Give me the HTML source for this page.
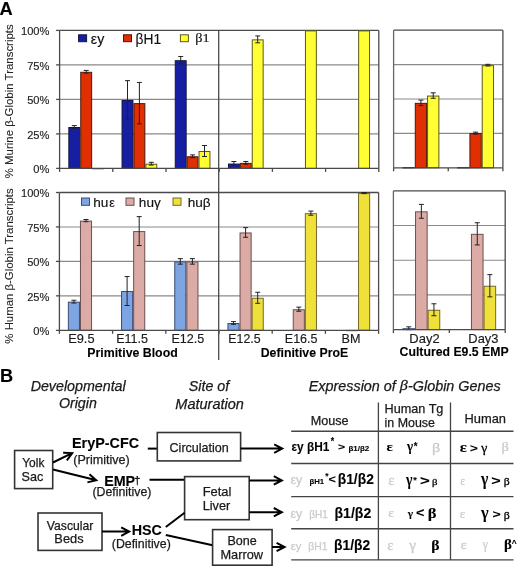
<!DOCTYPE html>
<html><head><meta charset="utf-8"><style>
html,body{margin:0;padding:0;background:#fff;width:520px;height:569px;overflow:hidden}
svg{display:block;will-change:transform;filter:blur(0.3px)}
</style></head><body>
<svg width="520" height="569" viewBox="0 0 520 569">
<rect width="520" height="569" fill="#fff"/>
<text x="-0.44" y="14.60"  font-size="18.30" font-weight="bold" font-style="normal" fill="#000" stroke="#000" stroke-width="0.1" font-family='"Liberation Sans", sans-serif' >A</text>
<line x1="59.60" y1="133.90" x2="378.80" y2="133.90" stroke="#8a8a8a" stroke-width="1.1" />
<line x1="59.60" y1="99.40" x2="378.80" y2="99.40" stroke="#8a8a8a" stroke-width="1.1" />
<line x1="59.60" y1="64.90" x2="378.80" y2="64.90" stroke="#8a8a8a" stroke-width="1.1" />
<line x1="59.60" y1="30.40" x2="378.80" y2="30.40" stroke="#4a4a4a" stroke-width="1.3" />
<line x1="378.80" y1="30.40" x2="378.80" y2="168.40" stroke="#4a4a4a" stroke-width="1.3" />
<rect x="68.85" y="127.50" width="10.90" height="40.90" fill="#161ea2" stroke="#14143c" stroke-width="1"/>
<line x1="74.30" y1="125.62" x2="74.30" y2="128.38" stroke="#222" stroke-width="1" />
<line x1="71.80" y1="125.62" x2="76.80" y2="125.62" stroke="#222" stroke-width="1" />
<line x1="71.80" y1="128.38" x2="76.80" y2="128.38" stroke="#222" stroke-width="1" />
<rect x="80.75" y="72.30" width="10.90" height="96.10" fill="#e02f02" stroke="#4a1808" stroke-width="1"/>
<line x1="86.20" y1="70.42" x2="86.20" y2="73.18" stroke="#222" stroke-width="1" />
<line x1="83.70" y1="70.42" x2="88.70" y2="70.42" stroke="#222" stroke-width="1" />
<line x1="83.70" y1="73.18" x2="88.70" y2="73.18" stroke="#222" stroke-width="1" />
<rect x="92.65" y="168.49" width="10.90" height="0.30" fill="#ffff33" stroke="#5c5a18" stroke-width="1"/>
<rect x="122.05" y="100.45" width="10.90" height="67.95" fill="#161ea2" stroke="#14143c" stroke-width="1"/>
<line x1="127.50" y1="80.63" x2="127.50" y2="119.27" stroke="#222" stroke-width="1" />
<line x1="125.00" y1="80.63" x2="130.00" y2="80.63" stroke="#222" stroke-width="1" />
<line x1="125.00" y1="119.27" x2="130.00" y2="119.27" stroke="#222" stroke-width="1" />
<rect x="133.95" y="103.63" width="10.90" height="64.77" fill="#e02f02" stroke="#4a1808" stroke-width="1"/>
<line x1="139.40" y1="82.43" x2="139.40" y2="123.83" stroke="#222" stroke-width="1" />
<line x1="136.90" y1="82.43" x2="141.90" y2="82.43" stroke="#222" stroke-width="1" />
<line x1="136.90" y1="123.83" x2="141.90" y2="123.83" stroke="#222" stroke-width="1" />
<rect x="145.85" y="164.21" width="10.90" height="4.19" fill="#ffff33" stroke="#5c5a18" stroke-width="1"/>
<line x1="151.30" y1="162.33" x2="151.30" y2="165.09" stroke="#222" stroke-width="1" />
<line x1="148.80" y1="162.33" x2="153.80" y2="162.33" stroke="#222" stroke-width="1" />
<line x1="148.80" y1="165.09" x2="153.80" y2="165.09" stroke="#222" stroke-width="1" />
<rect x="175.25" y="60.71" width="10.90" height="107.69" fill="#161ea2" stroke="#14143c" stroke-width="1"/>
<line x1="180.70" y1="56.48" x2="180.70" y2="63.93" stroke="#222" stroke-width="1" />
<line x1="178.20" y1="56.48" x2="183.20" y2="56.48" stroke="#222" stroke-width="1" />
<line x1="178.20" y1="63.93" x2="183.20" y2="63.93" stroke="#222" stroke-width="1" />
<rect x="187.15" y="156.76" width="10.90" height="11.64" fill="#e02f02" stroke="#4a1808" stroke-width="1"/>
<line x1="192.60" y1="154.88" x2="192.60" y2="157.64" stroke="#222" stroke-width="1" />
<line x1="190.10" y1="154.88" x2="195.10" y2="154.88" stroke="#222" stroke-width="1" />
<line x1="190.10" y1="157.64" x2="195.10" y2="157.64" stroke="#222" stroke-width="1" />
<rect x="199.05" y="151.51" width="10.90" height="16.89" fill="#ffff33" stroke="#5c5a18" stroke-width="1"/>
<line x1="204.50" y1="145.49" x2="204.50" y2="156.53" stroke="#222" stroke-width="1" />
<line x1="202.00" y1="145.49" x2="207.00" y2="145.49" stroke="#222" stroke-width="1" />
<line x1="202.00" y1="156.53" x2="207.00" y2="156.53" stroke="#222" stroke-width="1" />
<rect x="228.45" y="164.07" width="10.90" height="4.33" fill="#161ea2" stroke="#14143c" stroke-width="1"/>
<line x1="233.90" y1="161.50" x2="233.90" y2="165.64" stroke="#222" stroke-width="1" />
<line x1="231.40" y1="161.50" x2="236.40" y2="161.50" stroke="#222" stroke-width="1" />
<line x1="231.40" y1="165.64" x2="236.40" y2="165.64" stroke="#222" stroke-width="1" />
<rect x="240.35" y="163.38" width="10.90" height="5.02" fill="#e02f02" stroke="#4a1808" stroke-width="1"/>
<line x1="245.80" y1="161.50" x2="245.80" y2="164.26" stroke="#222" stroke-width="1" />
<line x1="243.30" y1="161.50" x2="248.30" y2="161.50" stroke="#222" stroke-width="1" />
<line x1="243.30" y1="164.26" x2="248.30" y2="164.26" stroke="#222" stroke-width="1" />
<rect x="252.25" y="39.87" width="10.90" height="128.53" fill="#ffff33" stroke="#5c5a18" stroke-width="1"/>
<line x1="257.70" y1="35.92" x2="257.70" y2="42.82" stroke="#222" stroke-width="1" />
<line x1="255.20" y1="35.92" x2="260.20" y2="35.92" stroke="#222" stroke-width="1" />
<line x1="255.20" y1="42.82" x2="260.20" y2="42.82" stroke="#222" stroke-width="1" />
<rect x="305.45" y="30.90" width="10.90" height="137.50" fill="#ffff33" stroke="#5c5a18" stroke-width="1"/>
<rect x="358.65" y="30.90" width="10.90" height="137.50" fill="#ffff33" stroke="#5c5a18" stroke-width="1"/>
<line x1="59.60" y1="30.40" x2="59.60" y2="168.40" stroke="#4a4a4a" stroke-width="1.3" />
<line x1="56.10" y1="168.40" x2="378.80" y2="168.40" stroke="#4a4a4a" stroke-width="1.3" />
<line x1="56.10" y1="133.90" x2="59.60" y2="133.90" stroke="#4a4a4a" stroke-width="1.3" />
<line x1="56.10" y1="99.40" x2="59.60" y2="99.40" stroke="#4a4a4a" stroke-width="1.3" />
<line x1="56.10" y1="64.90" x2="59.60" y2="64.90" stroke="#4a4a4a" stroke-width="1.3" />
<line x1="56.10" y1="30.40" x2="59.60" y2="30.40" stroke="#4a4a4a" stroke-width="1.3" />
<line x1="59.60" y1="168.40" x2="59.60" y2="171.90" stroke="#4a4a4a" stroke-width="1.3" />
<line x1="112.80" y1="168.40" x2="112.80" y2="171.90" stroke="#4a4a4a" stroke-width="1.3" />
<line x1="166.00" y1="168.40" x2="166.00" y2="171.90" stroke="#4a4a4a" stroke-width="1.3" />
<line x1="219.20" y1="168.40" x2="219.20" y2="171.90" stroke="#4a4a4a" stroke-width="1.3" />
<line x1="272.40" y1="168.40" x2="272.40" y2="171.90" stroke="#4a4a4a" stroke-width="1.3" />
<line x1="325.60" y1="168.40" x2="325.60" y2="171.90" stroke="#4a4a4a" stroke-width="1.3" />
<line x1="378.80" y1="168.40" x2="378.80" y2="171.90" stroke="#4a4a4a" stroke-width="1.3" />
<text x="33.35" y="173.20"  font-size="11.10" font-weight="normal" font-style="normal" fill="#222" stroke="#222" stroke-width="0.15" font-family='"Liberation Sans", sans-serif' >0%</text>
<text x="27.18" y="138.70"  font-size="11.10" font-weight="normal" font-style="normal" fill="#222" stroke="#222" stroke-width="0.15" font-family='"Liberation Sans", sans-serif' >25%</text>
<text x="27.18" y="104.20"  font-size="11.10" font-weight="normal" font-style="normal" fill="#222" stroke="#222" stroke-width="0.15" font-family='"Liberation Sans", sans-serif' >50%</text>
<text x="27.18" y="69.70"  font-size="11.10" font-weight="normal" font-style="normal" fill="#222" stroke="#222" stroke-width="0.15" font-family='"Liberation Sans", sans-serif' >75%</text>
<text x="21.01" y="35.20"  font-size="11.10" font-weight="normal" font-style="normal" fill="#222" stroke="#222" stroke-width="0.15" font-family='"Liberation Sans", sans-serif' >100%</text>
<line x1="393.60" y1="133.40" x2="502.90" y2="133.40" stroke="#8a8a8a" stroke-width="1.1" />
<line x1="393.60" y1="99.00" x2="502.90" y2="99.00" stroke="#8a8a8a" stroke-width="1.1" />
<line x1="393.60" y1="64.60" x2="502.90" y2="64.60" stroke="#8a8a8a" stroke-width="1.1" />
<line x1="393.60" y1="30.20" x2="502.90" y2="30.20" stroke="#4a4a4a" stroke-width="1.3" />
<line x1="502.90" y1="30.20" x2="502.90" y2="167.80" stroke="#4a4a4a" stroke-width="1.3" />
<rect x="402.98" y="167.61" width="11.30" height="0.30" fill="#161ea2" stroke="#14143c" stroke-width="1"/>
<rect x="415.28" y="103.35" width="11.30" height="64.45" fill="#e02f02" stroke="#4a1808" stroke-width="1"/>
<line x1="420.93" y1="100.10" x2="420.93" y2="105.60" stroke="#222" stroke-width="1" />
<line x1="418.43" y1="100.10" x2="423.43" y2="100.10" stroke="#222" stroke-width="1" />
<line x1="418.43" y1="105.60" x2="423.43" y2="105.60" stroke="#222" stroke-width="1" />
<rect x="427.58" y="96.06" width="11.30" height="71.74" fill="#ffff33" stroke="#5c5a18" stroke-width="1"/>
<line x1="433.23" y1="92.81" x2="433.23" y2="98.31" stroke="#222" stroke-width="1" />
<line x1="430.73" y1="92.81" x2="435.73" y2="92.81" stroke="#222" stroke-width="1" />
<line x1="430.73" y1="98.31" x2="435.73" y2="98.31" stroke="#222" stroke-width="1" />
<rect x="457.62" y="167.61" width="11.30" height="0.30" fill="#161ea2" stroke="#14143c" stroke-width="1"/>
<rect x="469.93" y="133.62" width="11.30" height="34.18" fill="#e02f02" stroke="#4a1808" stroke-width="1"/>
<line x1="475.57" y1="132.16" x2="475.57" y2="134.09" stroke="#222" stroke-width="1" />
<line x1="473.07" y1="132.16" x2="478.07" y2="132.16" stroke="#222" stroke-width="1" />
<line x1="473.07" y1="134.09" x2="478.07" y2="134.09" stroke="#222" stroke-width="1" />
<rect x="482.23" y="65.65" width="11.30" height="102.15" fill="#ffff33" stroke="#5c5a18" stroke-width="1"/>
<line x1="487.88" y1="64.32" x2="487.88" y2="65.98" stroke="#222" stroke-width="1" />
<line x1="485.38" y1="64.32" x2="490.38" y2="64.32" stroke="#222" stroke-width="1" />
<line x1="485.38" y1="65.98" x2="490.38" y2="65.98" stroke="#222" stroke-width="1" />
<line x1="393.60" y1="30.20" x2="393.60" y2="167.80" stroke="#666" stroke-width="1.3" />
<line x1="393.60" y1="167.80" x2="502.90" y2="167.80" stroke="#4a4a4a" stroke-width="1.3" />
<line x1="393.60" y1="167.80" x2="393.60" y2="171.30" stroke="#4a4a4a" stroke-width="1.3" />
<line x1="448.25" y1="167.80" x2="448.25" y2="171.30" stroke="#4a4a4a" stroke-width="1.3" />
<line x1="502.90" y1="167.80" x2="502.90" y2="171.30" stroke="#4a4a4a" stroke-width="1.3" />
<line x1="59.40" y1="295.85" x2="378.60" y2="295.85" stroke="#8a8a8a" stroke-width="1.1" />
<line x1="59.40" y1="261.40" x2="378.60" y2="261.40" stroke="#8a8a8a" stroke-width="1.1" />
<line x1="59.40" y1="226.95" x2="378.60" y2="226.95" stroke="#8a8a8a" stroke-width="1.1" />
<line x1="59.40" y1="192.50" x2="378.60" y2="192.50" stroke="#4a4a4a" stroke-width="1.3" />
<line x1="378.60" y1="192.50" x2="378.60" y2="330.30" stroke="#4a4a4a" stroke-width="1.3" />
<rect x="68.35" y="302.14" width="11.10" height="28.16" fill="#7ca5e2" stroke="#3c4c78" stroke-width="1"/>
<line x1="73.90" y1="300.26" x2="73.90" y2="303.02" stroke="#222" stroke-width="1" />
<line x1="71.40" y1="300.26" x2="76.40" y2="300.26" stroke="#222" stroke-width="1" />
<line x1="71.40" y1="303.02" x2="76.40" y2="303.02" stroke="#222" stroke-width="1" />
<rect x="80.45" y="221.11" width="11.10" height="109.19" fill="#dcaba5" stroke="#6a4f50" stroke-width="1"/>
<line x1="86.00" y1="219.51" x2="86.00" y2="221.71" stroke="#222" stroke-width="1" />
<line x1="83.50" y1="219.51" x2="88.50" y2="219.51" stroke="#222" stroke-width="1" />
<line x1="83.50" y1="221.71" x2="88.50" y2="221.71" stroke="#222" stroke-width="1" />
<rect x="121.55" y="291.53" width="11.10" height="38.77" fill="#7ca5e2" stroke="#3c4c78" stroke-width="1"/>
<line x1="127.10" y1="276.56" x2="127.10" y2="305.50" stroke="#222" stroke-width="1" />
<line x1="124.60" y1="276.56" x2="129.60" y2="276.56" stroke="#222" stroke-width="1" />
<line x1="124.60" y1="305.50" x2="129.60" y2="305.50" stroke="#222" stroke-width="1" />
<rect x="133.65" y="231.58" width="11.10" height="98.72" fill="#dcaba5" stroke="#6a4f50" stroke-width="1"/>
<line x1="139.20" y1="216.62" x2="139.20" y2="245.55" stroke="#222" stroke-width="1" />
<line x1="136.70" y1="216.62" x2="141.70" y2="216.62" stroke="#222" stroke-width="1" />
<line x1="136.70" y1="245.55" x2="141.70" y2="245.55" stroke="#222" stroke-width="1" />
<rect x="174.75" y="261.90" width="11.10" height="68.40" fill="#7ca5e2" stroke="#3c4c78" stroke-width="1"/>
<line x1="180.30" y1="258.64" x2="180.30" y2="264.16" stroke="#222" stroke-width="1" />
<line x1="177.80" y1="258.64" x2="182.80" y2="258.64" stroke="#222" stroke-width="1" />
<line x1="177.80" y1="264.16" x2="182.80" y2="264.16" stroke="#222" stroke-width="1" />
<rect x="186.85" y="261.90" width="11.10" height="68.40" fill="#dcaba5" stroke="#6a4f50" stroke-width="1"/>
<line x1="192.40" y1="258.64" x2="192.40" y2="264.16" stroke="#222" stroke-width="1" />
<line x1="189.90" y1="258.64" x2="194.90" y2="258.64" stroke="#222" stroke-width="1" />
<line x1="189.90" y1="264.16" x2="194.90" y2="264.16" stroke="#222" stroke-width="1" />
<rect x="227.95" y="323.50" width="11.10" height="6.80" fill="#7ca5e2" stroke="#3c4c78" stroke-width="1"/>
<line x1="233.50" y1="321.62" x2="233.50" y2="324.37" stroke="#222" stroke-width="1" />
<line x1="231.00" y1="321.62" x2="236.00" y2="321.62" stroke="#222" stroke-width="1" />
<line x1="231.00" y1="324.37" x2="236.00" y2="324.37" stroke="#222" stroke-width="1" />
<rect x="240.05" y="232.96" width="11.10" height="97.34" fill="#dcaba5" stroke="#6a4f50" stroke-width="1"/>
<line x1="245.60" y1="227.64" x2="245.60" y2="237.28" stroke="#222" stroke-width="1" />
<line x1="243.10" y1="227.64" x2="248.10" y2="227.64" stroke="#222" stroke-width="1" />
<line x1="243.10" y1="237.28" x2="248.10" y2="237.28" stroke="#222" stroke-width="1" />
<rect x="252.15" y="298.28" width="11.10" height="32.02" fill="#f0e03a" stroke="#76682a" stroke-width="1"/>
<line x1="257.70" y1="292.27" x2="257.70" y2="303.29" stroke="#222" stroke-width="1" />
<line x1="255.20" y1="292.27" x2="260.20" y2="292.27" stroke="#222" stroke-width="1" />
<line x1="255.20" y1="303.29" x2="260.20" y2="303.29" stroke="#222" stroke-width="1" />
<rect x="293.25" y="309.72" width="11.10" height="20.58" fill="#dcaba5" stroke="#6a4f50" stroke-width="1"/>
<line x1="298.80" y1="307.15" x2="298.80" y2="311.28" stroke="#222" stroke-width="1" />
<line x1="296.30" y1="307.15" x2="301.30" y2="307.15" stroke="#222" stroke-width="1" />
<line x1="296.30" y1="311.28" x2="301.30" y2="311.28" stroke="#222" stroke-width="1" />
<rect x="305.35" y="213.67" width="11.10" height="116.63" fill="#f0e03a" stroke="#76682a" stroke-width="1"/>
<line x1="310.90" y1="211.10" x2="310.90" y2="215.24" stroke="#222" stroke-width="1" />
<line x1="308.40" y1="211.10" x2="313.40" y2="211.10" stroke="#222" stroke-width="1" />
<line x1="308.40" y1="215.24" x2="313.40" y2="215.24" stroke="#222" stroke-width="1" />
<rect x="346.45" y="330.39" width="11.10" height="0.30" fill="#dcaba5" stroke="#6a4f50" stroke-width="1"/>
<rect x="358.55" y="193.55" width="11.10" height="136.75" fill="#f0e03a" stroke="#76682a" stroke-width="1"/>
<line x1="364.10" y1="192.50" x2="364.10" y2="193.60" stroke="#222" stroke-width="1" />
<line x1="361.60" y1="192.50" x2="366.60" y2="192.50" stroke="#222" stroke-width="1" />
<line x1="361.60" y1="193.60" x2="366.60" y2="193.60" stroke="#222" stroke-width="1" />
<line x1="59.40" y1="192.50" x2="59.40" y2="330.30" stroke="#4a4a4a" stroke-width="1.3" />
<line x1="55.90" y1="330.30" x2="378.60" y2="330.30" stroke="#4a4a4a" stroke-width="1.3" />
<line x1="55.90" y1="295.85" x2="59.40" y2="295.85" stroke="#4a4a4a" stroke-width="1.3" />
<line x1="55.90" y1="261.40" x2="59.40" y2="261.40" stroke="#4a4a4a" stroke-width="1.3" />
<line x1="55.90" y1="226.95" x2="59.40" y2="226.95" stroke="#4a4a4a" stroke-width="1.3" />
<line x1="55.90" y1="192.50" x2="59.40" y2="192.50" stroke="#4a4a4a" stroke-width="1.3" />
<line x1="59.40" y1="330.30" x2="59.40" y2="333.80" stroke="#4a4a4a" stroke-width="1.3" />
<line x1="112.60" y1="330.30" x2="112.60" y2="333.80" stroke="#4a4a4a" stroke-width="1.3" />
<line x1="165.80" y1="330.30" x2="165.80" y2="333.80" stroke="#4a4a4a" stroke-width="1.3" />
<line x1="219.00" y1="330.30" x2="219.00" y2="333.80" stroke="#4a4a4a" stroke-width="1.3" />
<line x1="272.20" y1="330.30" x2="272.20" y2="333.80" stroke="#4a4a4a" stroke-width="1.3" />
<line x1="325.40" y1="330.30" x2="325.40" y2="333.80" stroke="#4a4a4a" stroke-width="1.3" />
<line x1="378.60" y1="330.30" x2="378.60" y2="333.80" stroke="#4a4a4a" stroke-width="1.3" />
<text x="33.35" y="335.10"  font-size="11.10" font-weight="normal" font-style="normal" fill="#222" stroke="#222" stroke-width="0.15" font-family='"Liberation Sans", sans-serif' >0%</text>
<text x="27.18" y="300.65"  font-size="11.10" font-weight="normal" font-style="normal" fill="#222" stroke="#222" stroke-width="0.15" font-family='"Liberation Sans", sans-serif' >25%</text>
<text x="27.18" y="266.20"  font-size="11.10" font-weight="normal" font-style="normal" fill="#222" stroke="#222" stroke-width="0.15" font-family='"Liberation Sans", sans-serif' >50%</text>
<text x="27.18" y="231.75"  font-size="11.10" font-weight="normal" font-style="normal" fill="#222" stroke="#222" stroke-width="0.15" font-family='"Liberation Sans", sans-serif' >75%</text>
<text x="21.01" y="197.30"  font-size="11.10" font-weight="normal" font-style="normal" fill="#222" stroke="#222" stroke-width="0.15" font-family='"Liberation Sans", sans-serif' >100%</text>
<line x1="393.40" y1="294.90" x2="505.20" y2="294.90" stroke="#8a8a8a" stroke-width="1.1" />
<line x1="393.40" y1="260.20" x2="505.20" y2="260.20" stroke="#8a8a8a" stroke-width="1.1" />
<line x1="393.40" y1="225.50" x2="505.20" y2="225.50" stroke="#8a8a8a" stroke-width="1.1" />
<line x1="393.40" y1="190.80" x2="505.20" y2="190.80" stroke="#4a4a4a" stroke-width="1.3" />
<line x1="505.20" y1="190.80" x2="505.20" y2="329.60" stroke="#4a4a4a" stroke-width="1.3" />
<rect x="402.95" y="328.71" width="11.60" height="0.89" fill="#7ca5e2" stroke="#3c4c78" stroke-width="1"/>
<line x1="408.75" y1="326.82" x2="408.75" y2="329.60" stroke="#222" stroke-width="1" />
<line x1="406.25" y1="326.82" x2="411.25" y2="326.82" stroke="#222" stroke-width="1" />
<line x1="406.25" y1="329.60" x2="411.25" y2="329.60" stroke="#222" stroke-width="1" />
<rect x="415.55" y="211.84" width="11.60" height="117.76" fill="#dcaba5" stroke="#6a4f50" stroke-width="1"/>
<line x1="421.35" y1="204.40" x2="421.35" y2="218.28" stroke="#222" stroke-width="1" />
<line x1="418.85" y1="204.40" x2="423.85" y2="204.40" stroke="#222" stroke-width="1" />
<line x1="418.85" y1="218.28" x2="423.85" y2="218.28" stroke="#222" stroke-width="1" />
<rect x="428.15" y="310.25" width="11.60" height="19.35" fill="#f0e03a" stroke="#76682a" stroke-width="1"/>
<line x1="433.95" y1="303.78" x2="433.95" y2="315.72" stroke="#222" stroke-width="1" />
<line x1="431.45" y1="303.78" x2="436.45" y2="303.78" stroke="#222" stroke-width="1" />
<line x1="431.45" y1="315.72" x2="436.45" y2="315.72" stroke="#222" stroke-width="1" />
<rect x="471.45" y="234.33" width="11.60" height="95.27" fill="#dcaba5" stroke="#6a4f50" stroke-width="1"/>
<line x1="477.25" y1="222.72" x2="477.25" y2="244.93" stroke="#222" stroke-width="1" />
<line x1="474.75" y1="222.72" x2="479.75" y2="222.72" stroke="#222" stroke-width="1" />
<line x1="474.75" y1="244.93" x2="479.75" y2="244.93" stroke="#222" stroke-width="1" />
<rect x="484.05" y="286.24" width="11.60" height="43.36" fill="#f0e03a" stroke="#76682a" stroke-width="1"/>
<line x1="489.85" y1="274.64" x2="489.85" y2="296.84" stroke="#222" stroke-width="1" />
<line x1="487.35" y1="274.64" x2="492.35" y2="274.64" stroke="#222" stroke-width="1" />
<line x1="487.35" y1="296.84" x2="492.35" y2="296.84" stroke="#222" stroke-width="1" />
<line x1="393.40" y1="190.80" x2="393.40" y2="329.60" stroke="#666" stroke-width="1.3" />
<line x1="393.40" y1="329.60" x2="505.20" y2="329.60" stroke="#4a4a4a" stroke-width="1.3" />
<line x1="393.40" y1="329.60" x2="393.40" y2="333.10" stroke="#4a4a4a" stroke-width="1.3" />
<line x1="449.30" y1="329.60" x2="449.30" y2="333.10" stroke="#4a4a4a" stroke-width="1.3" />
<line x1="505.20" y1="329.60" x2="505.20" y2="333.10" stroke="#4a4a4a" stroke-width="1.3" />
<line x1="218.70" y1="30.40" x2="218.70" y2="360.00" stroke="#4a4a4a" stroke-width="1.3" />
<text transform="translate(13.4,101.3) rotate(-90)" font-size="11.45" text-anchor="middle" fill="#222" stroke="#222" stroke-width="0.08" font-family='"Liberation Sans", sans-serif'>% Murine β-Globin Transcripts</text>
<text transform="translate(13.4,266) rotate(-90)" font-size="11.4" text-anchor="middle" fill="#222" stroke="#222" stroke-width="0.08" font-family='"Liberation Sans", sans-serif'>% Human β-Globin Transcripts</text>
<rect x="78.60" y="34.80" width="8.00" height="6.90" fill="#161ea2" stroke="#14143c" stroke-width="1"/>
<text x="90.82" y="43.70"  font-size="14.18" font-weight="normal" font-style="normal" fill="#111" stroke="#111" stroke-width="0.15" font-family='"Liberation Sans", sans-serif' >εy</text>
<rect x="123.50" y="34.80" width="8.00" height="6.90" fill="#e02f02" stroke="#4a1808" stroke-width="1"/>
<text x="135.55" y="43.60"  font-size="13.77" font-weight="normal" font-style="normal" fill="#111" stroke="#111" stroke-width="0.15" font-family='"Liberation Sans", sans-serif' >βH1</text>
<rect x="180.40" y="34.80" width="8.00" height="6.90" fill="#ffff33" stroke="#5c5a18" stroke-width="1"/>
<text  transform="translate(195.29,42.44) scale(1.0614,1)" font-size="13.41" font-weight="normal" font-style="normal" fill="#111" stroke="#111" stroke-width="0.15" font-family='"Liberation Serif", serif' >β1</text>
<rect x="81.50" y="198.00" width="8.00" height="7.30" fill="#7ca5e2" stroke="#3c4c78" stroke-width="1"/>
<text x="93.26" y="206.90"  font-size="13.60" font-weight="normal" font-style="normal" fill="#111" stroke="#111" stroke-width="0.15" font-family='"Liberation Sans", sans-serif' >hu</text>
<text x="109.17" y="206.90"  font-size="12.60" font-weight="normal" font-style="normal" fill="#111" stroke="#111" stroke-width="0.15" font-family='"Liberation Sans", sans-serif' >ε</text>
<rect x="126.00" y="198.00" width="8.00" height="7.30" fill="#dcaba5" stroke="#6a4f50" stroke-width="1"/>
<text x="138.86" y="206.90"  font-size="13.60" font-weight="normal" font-style="normal" fill="#111" stroke="#111" stroke-width="0.15" font-family='"Liberation Sans", sans-serif' >huγ</text>
<rect x="173.00" y="198.00" width="8.00" height="7.30" fill="#f0e03a" stroke="#76682a" stroke-width="1"/>
<text x="187.66" y="206.90"  font-size="13.60" font-weight="normal" font-style="normal" fill="#111" stroke="#111" stroke-width="0.15" font-family='"Liberation Sans", sans-serif' >huβ</text>
<text  transform="translate(68.15,342.90) scale(1.0341,1)" font-size="12.40" font-weight="normal" font-style="normal" fill="#1a1a1a" stroke="#1a1a1a" stroke-width="0.15" font-family='"Liberation Sans", sans-serif' >E9.5</text>
<text  transform="translate(116.17,342.90) scale(1.0114,1)" font-size="12.40" font-weight="normal" font-style="normal" fill="#1a1a1a" stroke="#1a1a1a" stroke-width="0.15" font-family='"Liberation Sans", sans-serif' >E11.5</text>
<text  transform="translate(171.47,342.90) scale(1.0137,1)" font-size="12.40" font-weight="normal" font-style="normal" fill="#1a1a1a" stroke="#1a1a1a" stroke-width="0.15" font-family='"Liberation Sans", sans-serif' >E12.5</text>
<text  transform="translate(228.29,342.90) scale(0.9975,1)" font-size="12.40" font-weight="normal" font-style="normal" fill="#1a1a1a" stroke="#1a1a1a" stroke-width="0.15" font-family='"Liberation Sans", sans-serif' >E12.5</text>
<text  transform="translate(284.77,342.90) scale(1.0137,1)" font-size="12.40" font-weight="normal" font-style="normal" fill="#1a1a1a" stroke="#1a1a1a" stroke-width="0.15" font-family='"Liberation Sans", sans-serif' >E16.5</text>
<text  transform="translate(341.46,342.90) scale(1.0201,1)" font-size="12.40" font-weight="normal" font-style="normal" fill="#1a1a1a" stroke="#1a1a1a" stroke-width="0.15" font-family='"Liberation Sans", sans-serif' >BM</text>
<text  transform="translate(409.33,342.90) scale(1.0474,1)" font-size="12.40" font-weight="normal" font-style="normal" fill="#1a1a1a" stroke="#1a1a1a" stroke-width="0.15" font-family='"Liberation Sans", sans-serif' >Day2</text>
<text  transform="translate(468.34,342.90) scale(1.0405,1)" font-size="12.40" font-weight="normal" font-style="normal" fill="#1a1a1a" stroke="#1a1a1a" stroke-width="0.15" font-family='"Liberation Sans", sans-serif' >Day3</text>
<text x="87.29" y="356.50"  font-size="12.33" font-weight="bold" font-style="normal" fill="#000" stroke="#000" stroke-width="0.1" font-family='"Liberation Sans", sans-serif' >Primitive Blood</text>
<text x="260.69" y="356.50"  font-size="12.30" font-weight="bold" font-style="normal" fill="#000" stroke="#000" stroke-width="0.1" font-family='"Liberation Sans", sans-serif' >Definitive ProE</text>
<text x="399.60" y="355.80"  font-size="12.27" font-weight="bold" font-style="normal" fill="#000" stroke="#000" stroke-width="0.1" font-family='"Liberation Sans", sans-serif' >Cultured E9.5 EMP</text>
<text x="-0.00" y="381.80"  font-size="18.20" font-weight="bold" font-style="normal" fill="#000" stroke="#000" stroke-width="0.1" font-family='"Liberation Sans", sans-serif' >B</text>
<text x="30.67" y="391.20"  font-size="14.26" font-weight="normal" font-style="italic" fill="#1a1a1a" stroke="#1a1a1a" stroke-width="0.25" font-family='"Liberation Sans", sans-serif' >Developmental</text>
<text x="58.93" y="408.20"  font-size="14.21" font-weight="normal" font-style="italic" fill="#1a1a1a" stroke="#1a1a1a" stroke-width="0.25" font-family='"Liberation Sans", sans-serif' >Origin</text>
<text x="188.80" y="391.20"  font-size="14.27" font-weight="normal" font-style="italic" fill="#1a1a1a" stroke="#1a1a1a" stroke-width="0.25" font-family='"Liberation Sans", sans-serif' >Site of</text>
<text x="175.37" y="408.50"  font-size="14.50" font-weight="normal" font-style="italic" fill="#1a1a1a" stroke="#1a1a1a" stroke-width="0.25" font-family='"Liberation Sans", sans-serif' >Maturation</text>
<text x="308.77" y="391.20"  font-size="14.37" font-weight="normal" font-style="italic" fill="#1a1a1a" stroke="#1a1a1a" stroke-width="0.25" font-family='"Liberation Sans", sans-serif' >Expression of</text>
<text  transform="translate(399.87,390.49) scale(1.1050,1)" font-size="14.61" font-weight="normal" font-style="italic" fill="#1a1a1a" stroke="#1a1a1a" stroke-width="0.25" font-family='"Liberation Serif", serif' >β</text>
<text x="408.03" y="391.20"  font-size="14.37" font-weight="normal" font-style="italic" fill="#1a1a1a" stroke="#1a1a1a" stroke-width="0.25" font-family='"Liberation Sans", sans-serif' >-Globin Genes</text>
<rect x="14.6" y="450.5" width="38.1" height="38.1" fill="none" stroke="#333" stroke-width="1.6"/>
<text x="22.24" y="466.70"  font-size="11.94" font-weight="normal" font-style="normal" fill="#1a1a1a" stroke="#1a1a1a" stroke-width="0.25" font-family='"Liberation Sans", sans-serif' >Yolk</text>
<text x="21.53" y="481.30"  font-size="12.59" font-weight="normal" font-style="normal" fill="#1a1a1a" stroke="#1a1a1a" stroke-width="0.25" font-family='"Liberation Sans", sans-serif' >Sac</text>
<path d="M53.00,462.50 L71.48,453.45 M66.86,460.39 L72.20,453.10 L63.17,452.85" fill="none" stroke="#000" stroke-width="2" stroke-linejoin="miter" stroke-linecap="butt"/>
<path d="M53.00,469.50 L95.42,480.01 M87.42,482.35 L96.20,480.20 L89.44,474.20" fill="none" stroke="#000" stroke-width="2" stroke-linejoin="miter" stroke-linecap="butt"/>
<text x="72.05" y="447.80"  font-size="14.36" font-weight="bold" font-style="normal" fill="#000" stroke="#000" stroke-width="0.1" font-family='"Liberation Sans", sans-serif' >EryP-CFC</text>
<text x="73.22" y="463.80"  font-size="12.57" font-weight="normal" font-style="normal" fill="#1a1a1a" stroke="#1a1a1a" stroke-width="0.25" font-family='"Liberation Sans", sans-serif' >(Primitive)</text>
<text x="104.15" y="485.50"  font-size="14.32" font-weight="bold" font-style="normal" fill="#000" stroke="#000" stroke-width="0.1" font-family='"Liberation Sans", sans-serif' >EMP</text>
<text x="134.36" y="483.50"  font-size="11.00" font-weight="normal" font-style="normal" fill="#000" stroke="#000" stroke-width="0.25" font-family='"Liberation Sans", sans-serif' >†</text>
<text x="92.44" y="496.40"  font-size="12.33" font-weight="normal" font-style="normal" fill="#1a1a1a" stroke="#1a1a1a" stroke-width="0.25" font-family='"Liberation Sans", sans-serif' >(Definitive)</text>
<line x1="147.80" y1="448.60" x2="157.30" y2="448.60" stroke="#000" stroke-width="2" />
<rect x="157.3" y="432.5" width="83.3" height="28.4" fill="none" stroke="#333" stroke-width="1.6"/>
<text x="169.57" y="451.80"  font-size="12.54" font-weight="normal" font-style="normal" fill="#1a1a1a" stroke="#1a1a1a" stroke-width="0.25" font-family='"Liberation Sans", sans-serif' >Circulation</text>
<path d="M240.50,448.60 L281.40,448.60 M274.20,452.80 L282.20,448.60 L274.20,444.40" fill="none" stroke="#000" stroke-width="2" stroke-linejoin="miter" stroke-linecap="butt"/>
<line x1="149.50" y1="479.80" x2="184.60" y2="479.80" stroke="#000" stroke-width="2" />
<rect x="184.6" y="476.6" width="64.6" height="43.1" fill="none" stroke="#333" stroke-width="1.6"/>
<text x="202.64" y="495.60"  font-size="12.92" font-weight="normal" font-style="normal" fill="#1a1a1a" stroke="#1a1a1a" stroke-width="0.25" font-family='"Liberation Sans", sans-serif' >Fetal</text>
<text x="202.66" y="509.80"  font-size="12.71" font-weight="normal" font-style="normal" fill="#1a1a1a" stroke="#1a1a1a" stroke-width="0.25" font-family='"Liberation Sans", sans-serif' >Liver</text>
<path d="M249.40,480.40 L281.00,480.40 M273.80,484.60 L281.80,480.40 L273.80,476.20" fill="none" stroke="#000" stroke-width="2" stroke-linejoin="miter" stroke-linecap="butt"/>
<path d="M249.40,512.20 L281.00,512.20 M273.80,516.40 L281.80,512.20 L273.80,508.00" fill="none" stroke="#000" stroke-width="2" stroke-linejoin="miter" stroke-linecap="butt"/>
<rect x="38" y="513" width="64" height="37.4" fill="none" stroke="#333" stroke-width="1.6"/>
<text x="46.85" y="529.60"  font-size="12.17" font-weight="normal" font-style="normal" fill="#1a1a1a" stroke="#1a1a1a" stroke-width="0.25" font-family='"Liberation Sans", sans-serif' >Vascular</text>
<text x="54.35" y="543.00"  font-size="12.82" font-weight="normal" font-style="normal" fill="#1a1a1a" stroke="#1a1a1a" stroke-width="0.25" font-family='"Liberation Sans", sans-serif' >Beds</text>
<path d="M102.00,531.60 L128.40,531.60 M121.20,535.80 L129.20,531.60 L121.20,527.40" fill="none" stroke="#000" stroke-width="2" stroke-linejoin="miter" stroke-linecap="butt"/>
<text x="131.65" y="534.70"  font-size="14.32" font-weight="bold" font-style="normal" fill="#000" stroke="#000" stroke-width="0.1" font-family='"Liberation Sans", sans-serif' >HSC</text>
<text x="111.84" y="548.10"  font-size="12.33" font-weight="normal" font-style="normal" fill="#1a1a1a" stroke="#1a1a1a" stroke-width="0.25" font-family='"Liberation Sans", sans-serif' >(Definitive)</text>
<line x1="165.80" y1="527.00" x2="184.60" y2="512.70" stroke="#000" stroke-width="2" />
<line x1="165.80" y1="535.00" x2="212.60" y2="545.20" stroke="#000" stroke-width="2" />
<rect x="212.6" y="529.6" width="59.5" height="35.6" fill="none" stroke="#333" stroke-width="1.6"/>
<text x="227.47" y="545.40"  font-size="12.54" font-weight="normal" font-style="normal" fill="#1a1a1a" stroke="#1a1a1a" stroke-width="0.25" font-family='"Liberation Sans", sans-serif' >Bone</text>
<text x="220.45" y="559.40"  font-size="12.78" font-weight="normal" font-style="normal" fill="#1a1a1a" stroke="#1a1a1a" stroke-width="0.25" font-family='"Liberation Sans", sans-serif' >Marrow</text>
<path d="M272.00,547.00 L283.80,547.00 M276.60,551.20 L284.60,547.00 L276.60,542.80" fill="none" stroke="#000" stroke-width="2" stroke-linejoin="miter" stroke-linecap="butt"/>
<line x1="291.20" y1="431.30" x2="513.50" y2="431.30" stroke="#444" stroke-width="1.4" />
<line x1="291.20" y1="463.50" x2="513.50" y2="463.50" stroke="#444" stroke-width="1.4" />
<line x1="291.20" y1="496.60" x2="513.50" y2="496.60" stroke="#444" stroke-width="1.4" />
<line x1="291.20" y1="528.70" x2="513.50" y2="528.70" stroke="#444" stroke-width="1.4" />
<line x1="291.20" y1="559.90" x2="513.50" y2="559.90" stroke="#444" stroke-width="1.4" />
<line x1="378.40" y1="402.50" x2="378.40" y2="559.90" stroke="#444" stroke-width="1.3" />
<line x1="450.50" y1="402.50" x2="450.50" y2="559.90" stroke="#444" stroke-width="1.3" />
<text x="310.76" y="425.00"  font-size="12.63" font-weight="normal" font-style="normal" fill="#1a1a1a" stroke="#1a1a1a" stroke-width="0.25" font-family='"Liberation Sans", sans-serif' >Mouse</text>
<text x="384.56" y="412.90"  font-size="12.66" font-weight="normal" font-style="normal" fill="#1a1a1a" stroke="#1a1a1a" stroke-width="0.25" font-family='"Liberation Sans", sans-serif' >Human Tg</text>
<text x="384.58" y="427.20"  font-size="12.41" font-weight="normal" font-style="normal" fill="#1a1a1a" stroke="#1a1a1a" stroke-width="0.25" font-family='"Liberation Sans", sans-serif' >in Mouse</text>
<text x="464.55" y="422.90"  font-size="12.87" font-weight="normal" font-style="normal" fill="#1a1a1a" stroke="#1a1a1a" stroke-width="0.25" font-family='"Liberation Sans", sans-serif' >Human</text>
<text x="291.46" y="451.40"  font-size="11.87" font-weight="bold" font-style="normal" fill="#000" stroke="#000" stroke-width="0.1" font-family='"Liberation Sans", sans-serif' >εy βH1</text>
<text  transform="translate(330.78,445.43) scale(0.8601,1)" font-size="10.22" font-weight="bold" font-style="normal" fill="#000" stroke="#000" stroke-width="0.1" font-family='"Liberation Sans", sans-serif' >*</text>
<text  transform="translate(337.98,450.00) scale(1.2500,1)" font-size="9.83" font-weight="bold" font-style="normal" fill="#000" stroke="#000" stroke-width="0.1" font-family='"Liberation Sans", sans-serif' >&gt;</text>
<text x="348.45" y="451.40"  font-size="7.99" font-weight="bold" font-style="normal" fill="#000" stroke="#000" stroke-width="0.1" font-family='"Liberation Sans", sans-serif' >β1/β2</text>
<text x="290.58" y="484.20"  font-size="12.42" font-weight="normal" font-style="normal" fill="#cbcbcb" stroke="#cbcbcb" stroke-width="0.25" font-family='"Liberation Sans", sans-serif' >εy</text>
<text x="309.46" y="484.20"  font-size="7.81" font-weight="bold" font-style="normal" fill="#000" stroke="#000" stroke-width="0.1" font-family='"Liberation Sans", sans-serif' >βH1</text>
<text  transform="translate(325.28,478.72) scale(0.9612,1)" font-size="8.60" font-weight="bold" font-style="normal" fill="#000" stroke="#000" stroke-width="0.1" font-family='"Liberation Sans", sans-serif' >*</text>
<text  transform="translate(328.57,483.28) scale(1.1274,1)" font-size="11.13" font-weight="bold" font-style="normal" fill="#000" stroke="#000" stroke-width="0.1" font-family='"Liberation Sans", sans-serif' >&lt;</text>
<text x="337.75" y="484.20"  font-size="13.82" font-weight="bold" font-style="normal" fill="#000" stroke="#000" stroke-width="0.1" font-family='"Liberation Sans", sans-serif' >β1/β2</text>
<text x="290.58" y="517.80"  font-size="12.42" font-weight="normal" font-style="normal" fill="#cbcbcb" stroke="#cbcbcb" stroke-width="0.25" font-family='"Liberation Sans", sans-serif' >εy</text>
<text x="309.31" y="517.80"  font-size="10.02" font-weight="normal" font-style="normal" fill="#cbcbcb" stroke="#cbcbcb" stroke-width="0.25" font-family='"Liberation Sans", sans-serif' >βH1</text>
<text x="334.53" y="517.80"  font-size="14.06" font-weight="bold" font-style="normal" fill="#000" stroke="#000" stroke-width="0.1" font-family='"Liberation Sans", sans-serif' >β1/β2</text>
<text x="290.82" y="550.00"  font-size="11.32" font-weight="normal" font-style="normal" fill="#cbcbcb" stroke="#cbcbcb" stroke-width="0.25" font-family='"Liberation Sans", sans-serif' >εy</text>
<text x="308.28" y="550.00"  font-size="10.37" font-weight="normal" font-style="normal" fill="#cbcbcb" stroke="#cbcbcb" stroke-width="0.25" font-family='"Liberation Sans", sans-serif' >βH1</text>
<text x="334.05" y="550.00"  font-size="13.82" font-weight="bold" font-style="normal" fill="#000" stroke="#000" stroke-width="0.1" font-family='"Liberation Sans", sans-serif' >β1/β2</text>
<text  transform="translate(386.50,450.68) scale(1.2221,1)" font-size="12.06" font-weight="bold" font-style="normal" fill="#000" stroke="#000" stroke-width="0.1" font-family='"Liberation Serif", serif' >ε</text>
<text  transform="translate(407.08,451.03) scale(0.8746,1)" font-size="14.88" font-weight="bold" font-style="normal" fill="#000" stroke="#000" stroke-width="0.1" font-family='"Liberation Serif", serif' >γ</text>
<text  transform="translate(413.68,450.27) scale(0.8468,1)" font-size="11.29" font-weight="bold" font-style="normal" fill="#000" stroke="#000" stroke-width="0.1" font-family='"Liberation Sans", sans-serif' >*</text>
<text  transform="translate(432.07,452.00) scale(1.2500,1)" font-size="12.92" font-weight="normal" font-style="normal" fill="#cbcbcb" stroke="#cbcbcb" stroke-width="0.25" font-family='"Liberation Serif", serif' >β</text>
<text  transform="translate(388.34,484.85) scale(0.9813,1)" font-size="14.97" font-weight="normal" font-style="normal" fill="#cbcbcb" stroke="#cbcbcb" stroke-width="0.25" font-family='"Liberation Serif", serif' >ε</text>
<text  transform="translate(405.88,484.85) scale(0.8000,1)" font-size="17.11" font-weight="bold" font-style="normal" fill="#000" stroke="#000" stroke-width="0.1" font-family='"Liberation Serif", serif' >γ</text>
<text  transform="translate(413.28,483.44) scale(0.9093,1)" font-size="9.95" font-weight="bold" font-style="normal" fill="#000" stroke="#000" stroke-width="0.1" font-family='"Liberation Sans", sans-serif' >*</text>
<text  transform="translate(420.00,485.01) scale(1.2500,1)" font-size="13.36" font-weight="bold" font-style="normal" fill="#000" stroke="#000" stroke-width="0.1" font-family='"Liberation Sans", sans-serif' >&gt;</text>
<text  transform="translate(432.10,485.14) scale(1.2500,1)" font-size="8.72" font-weight="normal" font-style="normal" fill="#000" stroke="#000" stroke-width="0.25" font-family='"Liberation Serif", serif' >β</text>
<text  transform="translate(388.18,517.17) scale(1.0352,1)" font-size="13.10" font-weight="normal" font-style="normal" fill="#cbcbcb" stroke="#cbcbcb" stroke-width="0.25" font-family='"Liberation Serif", serif' >ε</text>
<text  transform="translate(407.67,517.22) scale(1.0301,1)" font-size="11.16" font-weight="bold" font-style="normal" fill="#000" stroke="#000" stroke-width="0.1" font-family='"Liberation Serif", serif' >γ</text>
<text  transform="translate(416.00,516.66) scale(1.1538,1)" font-size="12.43" font-weight="bold" font-style="normal" fill="#000" stroke="#000" stroke-width="0.1" font-family='"Liberation Sans", sans-serif' >&lt;</text>
<text  transform="translate(427.76,517.85) scale(1.2062,1)" font-size="13.85" font-weight="bold" font-style="normal" fill="#000" stroke="#000" stroke-width="0.1" font-family='"Liberation Serif", serif' >β</text>
<text  transform="translate(387.24,549.76) scale(1.0240,1)" font-size="14.35" font-weight="normal" font-style="normal" fill="#cbcbcb" stroke="#cbcbcb" stroke-width="0.25" font-family='"Liberation Serif", serif' >ε</text>
<text  transform="translate(409.13,549.69) scale(1.0424,1)" font-size="14.58" font-weight="normal" font-style="normal" fill="#cbcbcb" stroke="#cbcbcb" stroke-width="0.25" font-family='"Liberation Serif", serif' >γ</text>
<text  transform="translate(431.32,549.85) scale(1.1401,1)" font-size="13.85" font-weight="bold" font-style="normal" fill="#000" stroke="#000" stroke-width="0.1" font-family='"Liberation Serif", serif' >β</text>
<text  transform="translate(459.75,451.75) scale(1.1076,1)" font-size="14.97" font-weight="bold" font-style="normal" fill="#000" stroke="#000" stroke-width="0.1" font-family='"Liberation Serif", serif' >ε</text>
<text  transform="translate(470.04,452.26) scale(1.2500,1)" font-size="10.76" font-weight="bold" font-style="normal" fill="#000" stroke="#000" stroke-width="0.1" font-family='"Liberation Sans", sans-serif' >&gt;</text>
<text  transform="translate(481.33,451.93) scale(1.1430,1)" font-size="12.05" font-weight="normal" font-style="normal" fill="#000" stroke="#000" stroke-width="0.25" font-family='"Liberation Serif", serif' >γ</text>
<text  transform="translate(501.38,450.74) scale(1.1998,1)" font-size="12.00" font-weight="normal" font-style="normal" fill="#cbcbcb" stroke="#cbcbcb" stroke-width="0.25" font-family='"Liberation Serif", serif' >β</text>
<text  transform="translate(460.37,484.57) scale(0.8627,1)" font-size="13.10" font-weight="normal" font-style="normal" fill="#cbcbcb" stroke="#cbcbcb" stroke-width="0.25" font-family='"Liberation Serif", serif' >ε</text>
<text  transform="translate(481.09,484.96) scale(0.8674,1)" font-size="18.01" font-weight="bold" font-style="normal" fill="#000" stroke="#000" stroke-width="0.1" font-family='"Liberation Serif", serif' >γ</text>
<text  transform="translate(491.22,484.99) scale(1.2424,1)" font-size="12.99" font-weight="bold" font-style="normal" fill="#000" stroke="#000" stroke-width="0.1" font-family='"Liberation Sans", sans-serif' >&gt;</text>
<text  transform="translate(503.85,485.00) scale(1.2500,1)" font-size="9.38" font-weight="normal" font-style="normal" fill="#000" stroke="#000" stroke-width="0.25" font-family='"Liberation Serif", serif' >β</text>
<text  transform="translate(459.71,518.37) scale(0.9766,1)" font-size="13.31" font-weight="normal" font-style="normal" fill="#cbcbcb" stroke="#cbcbcb" stroke-width="0.25" font-family='"Liberation Serif", serif' >ε</text>
<text  transform="translate(481.10,518.25) scale(0.9507,1)" font-size="17.11" font-weight="bold" font-style="normal" fill="#000" stroke="#000" stroke-width="0.1" font-family='"Liberation Serif", serif' >γ</text>
<text  transform="translate(492.51,518.01) scale(1.2100,1)" font-size="11.69" font-weight="bold" font-style="normal" fill="#000" stroke="#000" stroke-width="0.1" font-family='"Liberation Sans", sans-serif' >&gt;</text>
<text  transform="translate(503.84,518.78) scale(1.2500,1)" font-size="9.49" font-weight="normal" font-style="normal" fill="#000" stroke="#000" stroke-width="0.25" font-family='"Liberation Serif", serif' >β</text>
<text  transform="translate(460.62,549.48) scale(1.2500,1)" font-size="12.27" font-weight="normal" font-style="normal" fill="#cbcbcb" stroke="#cbcbcb" stroke-width="0.25" font-family='"Liberation Serif", serif' >ε</text>
<text  transform="translate(482.72,549.38) scale(0.8501,1)" font-size="13.69" font-weight="normal" font-style="normal" fill="#cbcbcb" stroke="#cbcbcb" stroke-width="0.25" font-family='"Liberation Serif", serif' >γ</text>
<text  transform="translate(503.95,549.35) scale(1.0905,1)" font-size="13.85" font-weight="bold" font-style="normal" fill="#000" stroke="#000" stroke-width="0.1" font-family='"Liberation Serif", serif' >β</text>
<text  transform="translate(511.82,546.05) scale(0.8882,1)" font-size="9.38" font-weight="bold" font-style="normal" fill="#000" stroke="#000" stroke-width="0.1" font-family='"Liberation Sans", sans-serif' >^</text>
</svg>
</body></html>
